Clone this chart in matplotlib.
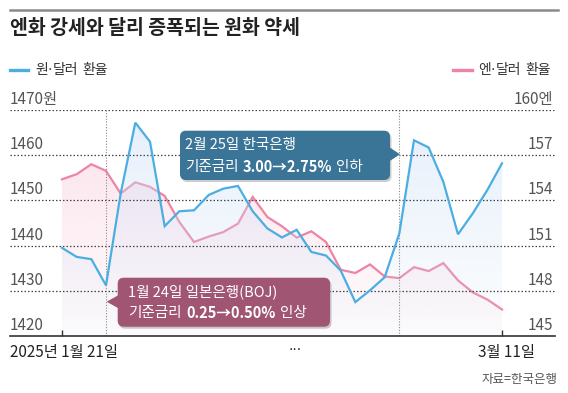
import numpy as np
import matplotlib
matplotlib.use("Agg")
import matplotlib.pyplot as plt
import matplotlib.transforms as mtransforms
from matplotlib.patches import FancyBboxPatch, Polygon
from matplotlib.lines import Line2D

plt.rcParams["font.family"] = ["Noto Sans CJK KR", "DejaVu Sans"]

# 원·달러 환율 (원), 엔·달러 환율 (엔) - 2025-01-21 ~ 2025-03-11 영업일
won = [1439.5, 1437.5, 1437.0, 1431.2, 1451.5, 1467.2, 1463.0, 1444.3, 1447.6, 1447.8,
       1451.2, 1452.6, 1453.2, 1447.6, 1443.8, 1441.8, 1443.5, 1438.6, 1437.8, 1434.5,
       1427.5, 1430.1, 1433.0, 1442.7, 1463.3, 1461.7, 1454.1, 1442.5, 1447.1, 1452.3,
       1458.2]
yen = [155.40, 155.74, 156.40, 155.96, 154.46, 155.20, 154.90, 154.30, 152.57, 151.24,
       151.60, 151.90, 152.46, 154.23, 152.90, 152.28, 151.53, 151.95, 151.24, 149.40,
       149.18, 149.75, 148.95, 148.84, 149.57, 149.31, 149.84, 148.69, 147.90, 147.42,
       146.76]
won_ticks = [1420, 1430, 1440, 1450, 1460, 1470]
won_labels = ["1420", "1430", "1440", "1450", "1460", "1470원"]
yen_ticks = [145, 148, 151, 154, 157, 160]
yen_labels = ["145", "148", "151", "154", "157", "160엔"]
boj_idx = 3   # 1월 24일 일본은행 인상
bok_idx = 23  # 2월 25일 한국은행 인하

BLUE = "#4baee2"
PINK = "#ef83a3"
W, H = 568, 393

fig = plt.figure(figsize=(W / 100, H / 100), dpi=100)
px = mtransforms.Affine2D().scale(1 / W, -1 / H).translate(0, 1) + fig.transFigure
renderer = fig.canvas.get_renderer()

x = np.arange(len(won))
ax = fig.add_axes([10 / W, (H - 336) / H, 545 / W, 226 / H])
ax2 = ax.twinx()
ax.set_zorder(2)
ax.patch.set_visible(False)


def grad_fill(axis, xs, ys, y0, ytop, rgb, a_top, a_bot):
    poly = axis.fill_between(xs, ys, y0, color="none", lw=0)
    arr = np.zeros((256, 1, 4))
    arr[:, 0, :3] = rgb
    arr[:, 0, 3] = np.linspace(a_top, a_bot, 256)
    im = axis.imshow(arr, extent=[xs[0], xs[-1], y0, ytop], aspect="auto",
                     origin="upper", zorder=1, interpolation="bilinear")
    im.set_clip_path(poly.get_paths()[0], transform=axis.transData)


grad_fill(ax2, x, yen, 145, 160, (0.98, 0.80, 0.87), 0.6, 0.05)
ax2.plot(x, yen, color=PINK, lw=1.6, zorder=3, solid_joinstyle="miter")

grad_fill(ax, x, won, 1420, 1470, (0.82, 0.89, 0.97), 0.55, 0.05)
for t in won_ticks[1:]:
    ax.axhline(t, color="#444444", ls=(0, (1.2, 1.6)), lw=0.9, zorder=1.5)
ax.vlines([boj_idx, bok_idx], 1420, 1470, color="#8a8a8a", ls=(0, (1, 1.5)),
          lw=0.8, zorder=1.5)
ax.plot(x, won, color=BLUE, lw=1.6, zorder=3, solid_joinstyle="miter")

xl = (-52 / 14.667, 30 + 53 / 14.667)
ax.set_xlim(*xl)
ax.set_ylim(1420, 1470)
ax2.set_xlim(*xl)
ax2.set_ylim(145, 160)

for a in (ax, ax2):
    for s in a.spines.values():
        s.set_visible(False)
    a.set_yticks([])
ax.spines["bottom"].set_visible(True)
ax.spines["bottom"].set_color("#333333")
ax.spines["bottom"].set_linewidth(1.2)
ax.set_xticks([0, len(won) - 1])
ax.tick_params(axis="x", direction="in", length=4, width=1, color="#333333",
               labelbottom=False)
ax2.tick_params(axis="x", length=0, labelbottom=False)

lab_tr = mtransforms.blended_transform_factory(px, ax.transData)
lab_tr2 = mtransforms.blended_transform_factory(px, ax2.transData)
for t, l in zip(won_ticks, won_labels):
    ax.annotate(l, xy=(10, t), xycoords=lab_tr, xytext=(0, 1.5), textcoords="offset points",
                ha="left", va="bottom", fontsize=11, color="#555555",
                annotation_clip=False)
for t, l in zip(yen_ticks, yen_labels):
    ax2.annotate(l, xy=(553, t), xycoords=lab_tr2, xytext=(0, 1.5), textcoords="offset points",
                 ha="right", va="bottom", fontsize=11, color="#555555",
                 annotation_clip=False)


def runs(x0, y0, parts, size, color, z=7):
    xx = x0
    for s, w in parts:
        if s == " ":
            xx += size * 0.4
            continue
        fam = ["DejaVu Sans"] if s == "·" else ["Noto Sans CJK KR", "DejaVu Sans"]
        t = fig.text(xx, y0, s, transform=px, fontsize=size, color=color, family=fam,
                     fontweight=w, va="center", ha="left", zorder=z)
        xx += t.get_window_extent(renderer).width + (1 if s == "·" else 0)


# title, rule, legend
fig.add_artist(Line2D([10, 558], [10, 10], transform=px, color="#8a8a8a", lw=1.8))
fig.text(10, 28, "엔화 강세와 달리 증폭되는 원화 약세", transform=px, fontsize=14,
         fontweight="bold", color="#222222", va="center", ha="left")
fig.add_artist(Line2D([10, 28], [70, 70], transform=px, color=BLUE, lw=2.4))
runs(35, 70, [("원", "normal"), ("·", "normal"), ("달러", "normal"), (" ", ""),
              ("환율", "normal")], 10, "#333333")
fig.add_artist(Line2D([453, 472], [70, 70], transform=px, color=PINK, lw=2.4))
runs(478, 70, [("엔", "normal"), ("·", "normal"), ("달러", "normal"), (" ", ""),
               ("환율", "normal")], 10, "#333333")

# bottom labels
fig.text(10, 352, "2025년 1월 21일", transform=px, fontsize=11, color="#222222",
         va="center", ha="left")
fig.text(295, 350, "···", transform=px, fontsize=10, color="#222222",
         va="center", ha="center", family=["DejaVu Sans"])
fig.text(506, 352, "3월 11일", transform=px, fontsize=11, color="#222222",
         va="center", ha="center")
fig.text(558, 379, "자료=한국은행", transform=px, fontsize=9, color="#555555",
         va="center", ha="right")


def callout(x0, y0, x1, y1, tri, color):
    sh = FancyBboxPatch((x0 + 1.5, y0 + 2), x1 - x0, y1 - y0, transform=px,
                        boxstyle="round,pad=0,rounding_size=6", fc="#00000033",
                        ec="none", zorder=5)
    fig.add_artist(sh)
    box = FancyBboxPatch((x0, y0), x1 - x0, y1 - y0, transform=px,
                         boxstyle="round,pad=0,rounding_size=6", fc=color,
                         ec="none", zorder=6)
    fig.add_artist(box)
    fig.add_artist(Polygon(tri, closed=True, transform=px, fc=color, ec="none", zorder=6))


callout(180, 130.7, 390, 180, [[389, 147], [400, 154.3], [389, 161.5]], "#3a7598")
runs(185, 145, [("2월 25일 한국은행", "normal")], 10.5, "white")
runs(185, 166.5, [("기준금리", "normal"), (" ", ""), ("3.00→2.75%", "bold"),
                  (" ", ""), ("인하", "normal")], 10.5, "white")

callout(117.7, 277.7, 330, 326.7, [[118.7, 295], [106.7, 301.7], [118.7, 308.5]], "#a05672")
runs(128.5, 291.7, [("1월 24일 일본은행(BOJ)", "normal")], 10.5, "white")
runs(128.5, 313.3, [("기준금리", "normal"), (" ", ""), ("0.25→0.50%", "bold"),
                    (" ", ""), ("인상", "normal")], 10.5, "white")

fig.savefig("out.png", dpi=100)
